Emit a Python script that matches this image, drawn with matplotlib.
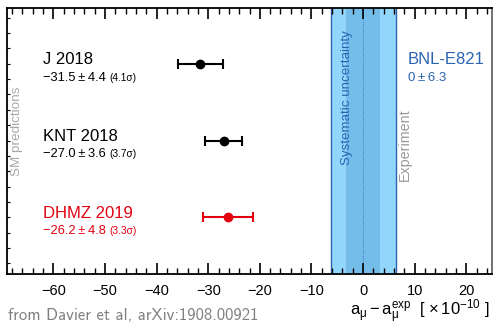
import numpy as np
import matplotlib
matplotlib.use('Agg')
import matplotlib.pyplot as plt
from matplotlib.ticker import MultipleLocator

# Données : prédictions SM et mesure BNL-E821 (en unités de 1e-10)
labels = ['J 2018', 'KNT 2018', 'DHMZ 2019']
valeurs = [-31.5, -27.0, -26.2]
erreurs = [4.4, 3.6, 4.8]
sigmas = ['(4.1σ)', '(3.7σ)', '(3.3σ)']
couleurs = ['black', 'black', '#e3000f']
positions = [3, 2, 1]

exp_nom = 'BNL-E821'
exp_valeur = 0
exp_erreur = 6.3
exp_syst = 3.3

plt.rcParams['font.family'] = ['Liberation Sans', 'DejaVu Sans']
plt.rcParams['mathtext.fontset'] = 'custom'
plt.rcParams['mathtext.rm'] = 'Liberation Sans'
plt.rcParams['mathtext.it'] = 'Liberation Sans'
plt.rcParams['mathtext.bf'] = 'Liberation Sans:bold'

fig = plt.figure(figsize=(4.94, 3.25), dpi=100)
ax = fig.add_axes([7 / 494, 51 / 325, 485 / 494, 266 / 325])

# Bande expérimentale
bleu = '#2a64b0'
ax.axvspan(exp_valeur - exp_erreur, exp_valeur + exp_erreur, color='#93d6fc', lw=0, zorder=0)
ax.axvspan(exp_valeur - exp_syst, exp_valeur + exp_syst, color='#74bce9', lw=0, zorder=0)
for xb in (exp_valeur - exp_erreur, exp_valeur + exp_erreur):
    ax.axvline(xb, color=bleu, lw=1.0, zorder=1)
ax.axvline(exp_valeur, color=bleu, lw=0.6, ls=':', zorder=1)

# Prédictions
for lab, v, e, s, c, y in zip(labels, valeurs, erreurs, sigmas, couleurs, positions):
    ax.errorbar(v, y, xerr=e, fmt='o', color=c, ms=6, lw=1.5, capsize=3.3, capthick=1.5, zorder=3)
    ax.text(-62, y + 0.05, lab, color=c, fontsize=12, va='center', ha='left')
    ax.text(-62, y - 0.18, f'\u2212{abs(v):.1f}\u2009±\u2009{e:.1f}',
            color=c, fontsize=9.3, va='center', ha='left')
    ax.text(-49.2, y - 0.18, s, color=c, fontsize=7.3, va='center', ha='left')

ax.text(8.7, 3.05, exp_nom, color=bleu, fontsize=12, va='center', ha='left')
ax.text(8.7, 2.82, f'{exp_valeur}\u2009±\u2009{exp_erreur}', color=bleu, fontsize=9.5,
        va='center', ha='left')

ax.text(-3.1, 2.56, 'Systematic uncertainty', color=bleu, fontsize=9.6, rotation=90,
        va='center', ha='center')
ax.text(8.1, 1.94, 'Experiment', color='#9a9a9a', fontsize=10.3, rotation=90,
        va='center', ha='center')
ax.text(-67, 2.12, 'SM predictions', color='#a8a8a8', fontsize=9.7, rotation=90,
        va='center', ha='center')

ax.set_xlim(-69, 25)
ax.set_ylim(0.26, 3.727)
ticks = np.arange(-60, 30, 10)
ax.set_xticks(ticks)
ax.set_xticklabels([f'\u2212{abs(t)}' if t < 0 else str(t) for t in ticks])
ax.xaxis.set_minor_locator(MultipleLocator(2))
ax.set_yticks([])
ax.yaxis.set_minor_locator(MultipleLocator(0.2))
ax.tick_params(axis='x', which='major', direction='in', length=8, width=1.2, top=True,
               labelsize=10.5, pad=7)
ax.tick_params(axis='x', which='minor', direction='in', length=4, width=1.0, top=True)
ax.tick_params(axis='y', which='minor', direction='in', length=2.5, width=0.8,
               left=True, right=False, labelleft=False)

for cote in ('left', 'bottom', 'top'):
    ax.spines[cote].set_linewidth(1.3)
ax.spines['right'].set_color('#666666')
ax.spines['right'].set_linewidth(1.3)

fig.text(490 / 494, 1 - 312 / 325,
         r'$\mathrm{a}_{\mu} - \mathrm{a}_{\mu}^{\mathrm{exp}}$  [ $\times\,10^{-10}$ ]',
         fontsize=12, ha='right', va='center')
fig.text(8 / 494, 1 - 316 / 325, 'from Davier et al, arXiv:1908.00921',
         family='cmss10', color='#808080', fontsize=12, ha='left', va='center')

fig.savefig('out.png', dpi=100)
